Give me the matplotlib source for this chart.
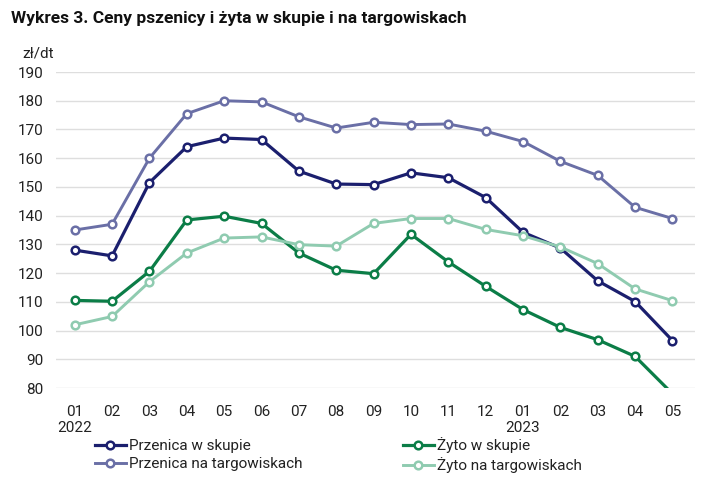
import matplotlib.pyplot as plt

plt.rcParams['font.family'] = ['Roboto', 'DejaVu Sans']

months = ["01\n2022", "02", "03", "04", "05", "06", "07", "08", "09", "10", "11", "12",
          "01\n2023", "02", "03", "04", "05"]

pszenica_skup = [128, 126, 151.5, 164, 167, 166.5, 155.5, 151, 150.8, 154.9, 153.2, 146.3,
                 134.2, 128.7, 117.3, 110.1, 96.5]
pszenica_targ = [135, 137, 160, 175.5, 180, 179.6, 174.4, 170.5, 172.5, 171.7, 171.9, 169.4,
                 165.8, 158.9, 154, 142.9, 139]
zyto_skup = [110.5, 110.2, 120.6, 138.5, 139.8, 137.3, 127, 121, 119.8, 133.5, 123.9, 115.4,
             107.3, 101.1, 96.8, 91, 78]
zyto_targ = [102, 104.9, 117, 127, 132.2, 132.6, 129.9, 129.4, 137.3, 139, 139, 135.2,
             133, 129.1, 123.3, 114.5, 110.4]

fig = plt.figure(figsize=(7.12, 4.99), dpi=100)
ax = fig.add_axes([0.0787, 0.2224, 0.8973, 0.6333])

x = list(range(len(months)))
series = [
    ("Przenica w skupie", pszenica_skup, "#1b1f6e", 2.3),
    ("Przenica na targowiskach", pszenica_targ, "#6a6fa6", 2.1),
    ("Żyto w skupie", zyto_skup, "#0b7d47", 2.3),
    ("Żyto na targowiskach", zyto_targ, "#8fcbb0", 2.1),
]
for name, vals, col, lw in series:
    ax.plot(x, vals, color=col, lw=lw, marker="o", ms=5.5, mfc="white", mec=col, mew=1.8,
            label=name, zorder=3)

ax.set_ylim(80, 190)
ax.set_xlim(-0.5, 16.6)
ax.set_yticks(range(80, 191, 10))
ax.set_xticks(x)
ax.set_xticklabels(months, linespacing=1.2, va="top")
ax.grid(axis="y", color="#dedede", lw=1)
ax.set_axisbelow(True)
for s in ax.spines.values():
    s.set_visible(False)
ax.tick_params(length=0, labelsize=11, colors="#222222")
ax.tick_params(axis="x", pad=12)
ax.tick_params(axis="y", pad=9)

fig.text(0.016, 0.962, "Wykres 3. Ceny pszenicy i żyta w skupie i na targowiskach",
         fontsize=12.5, fontweight="bold", color="#111111", va="center")
fig.text(0.031, 0.892, "zł/dt", fontsize=11, color="#222222", va="center")

fig.legend(loc="lower left", bbox_to_anchor=(0.125, 0.04), ncol=2, frameon=False,
           fontsize=11, handlelength=2.0, handletextpad=0.2, columnspacing=6.6,
           labelspacing=0.25, borderaxespad=0, labelcolor="#222222")

fig.savefig("out.png", dpi=100)
